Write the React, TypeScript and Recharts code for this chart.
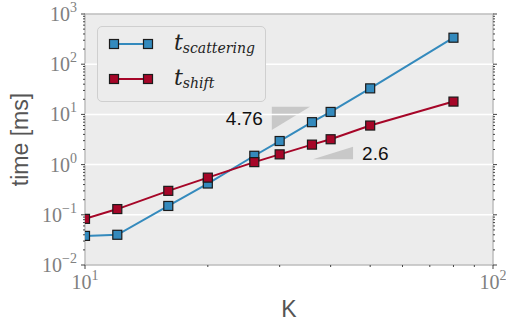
import React from 'react';
import {
  ComposedChart,
  Line,
  XAxis,
  YAxis,
  ReferenceArea,
  ReferenceLine,
  Legend,
  Label,
} from 'recharts';

// measured runtimes (ms) per K
const K = [10, 12, 16, 20, 26, 30, 36, 40, 50, 80];
const tScattering = [0.038, 0.04, 0.15, 0.42, 1.5, 2.95, 7.0, 11.2, 33, 337];
const tShift = [0.083, 0.13, 0.3, 0.55, 1.12, 1.6, 2.5, 3.2, 6.0, 18];

const xMajor = [10, 100];
const yMajor = [0.01, 0.1, 1, 10, 100, 1000];
const minorSteps = [2, 3, 4, 5, 6, 7, 8, 9];

const xTicks = [...xMajor, ...minorSteps.map((m) => m * 10)];
const yTicks = [
  ...yMajor,
  ...yMajor.slice(0, -1).flatMap((d) => minorSteps.map((m) => +(m * d).toPrecision(3))),
];

const slopes = [
  { label: '4.76', x1: 28.7, x2: 35.6, y1: 4.89, y2: 14.2, corner: 'topLeft' },
  { label: '2.6', x1: 36.2, x2: 45.4, y1: 1.28, y2: 2.27, corner: 'bottomRight' },
];

const series = [
  { key: 'scattering', sub: 'scattering', color: '#348ABD' },
  { key: 'shift', sub: 'shift', color: '#A60628' },
];

const data = K.map((k, i) => ({ K: k, scattering: tScattering[i], shift: tShift[i] }));

const isMajor = (v: number) => {
  const l = Math.log10(v);
  return Math.abs(l - Math.round(l)) < 1e-6;
};

const TICK_COLOR = '#444';
const LABEL_COLOR = '#808080';
const SERIF = '"Liberation Serif", serif';

const expText = (v: number) => {
  const e = Math.round(Math.log10(v));
  return e < 0 ? '\u2212' + Math.abs(e) : String(e);
};

const TickMark = (props: any) => {
  const { x, y, payload, side } = props;
  const v = payload.value;
  const major = isMajor(v);
  const len = major ? 4 : 2;
  let line;
  if (side === 'left') line = <line x1={x} x2={x - len} y1={y} y2={y} stroke={TICK_COLOR} />;
  else if (side === 'right') line = <line x1={x} x2={x + len} y1={y} y2={y} stroke={TICK_COLOR} />;
  else if (side === 'top') line = <line x1={x} x2={x} y1={y} y2={y - len} stroke={TICK_COLOR} />;
  else line = <line x1={x} x2={x} y1={y} y2={y + len} stroke={TICK_COLOR} />;

  let text = null;
  if (major && side === 'left') {
    text = (
      <text x={x - 8} y={y + 7} textAnchor="end" fill={LABEL_COLOR} fontFamily={SERIF} fontSize={20}>
        <tspan>10</tspan>
        <tspan dy={-9} fontSize={14}>{expText(v)}</tspan>
      </text>
    );
  }
  if (major && side === 'bottom') {
    text = (
      <text x={x} y={y + 24} textAnchor="middle" fill={LABEL_COLOR} fontFamily={SERIF} fontSize={20}>
        <tspan>10</tspan>
        <tspan dy={-9} fontSize={14}>{expText(v)}</tspan>
      </text>
    );
  }
  return (
    <g>
      {line}
      {text}
    </g>
  );
};

const squareDot = (color: string) => (props: any) => {
  const { cx, cy, index } = props;
  if (cx == null || cy == null) return <g key={index} />;
  return (
    <rect
      key={index}
      x={cx - 4.5}
      y={cy - 4.5}
      width={9}
      height={9}
      fill={color}
      stroke="#1b1b1b"
      strokeWidth={1.2}
    />
  );
};

const triangle = (corner: string) => (props: any) => {
  const { x, y, width, height } = props;
  const d =
    corner === 'topLeft'
      ? `M${x},${y} L${x + width},${y} L${x},${y + height} Z`
      : `M${x},${y + height} L${x + width},${y + height} L${x + width},${y} Z`;
  return <path d={d} fill="#c8c8c8" stroke="none" />;
};

const LegendBox = () => (
  <div
    style={{
      boxSizing: 'border-box',
      width: 169,
      height: 76,
      border: '1px solid #cfcfcf',
      borderRadius: 5,
      background: '#ececec',
      position: 'relative',
    }}
  >
    {series.map((s, i) => {
      const cy = 18 + i * 35;
      return (
        <React.Fragment key={s.key}>
          <svg width={46} height={12} style={{ position: 'absolute', left: 10, top: cy - 7 }}>
            <line x1={6} x2={40} y1={6} y2={6} stroke={s.color} strokeWidth={2} />
            <rect x={1.5} y={1.5} width={9} height={9} fill={s.color} stroke="#1b1b1b" strokeWidth={1.2} />
            <rect x={35.5} y={1.5} width={9} height={9} fill={s.color} stroke="#1b1b1b" strokeWidth={1.2} />
          </svg>
          <div
            style={{
              position: 'absolute',
              left: 76,
              top: cy - 17,
              fontFamily: '"DejaVu Serif", serif',
              fontStyle: 'italic',
              color: '#222',
              whiteSpace: 'nowrap',
              lineHeight: '30px',
            }}
          >
            <span style={{ fontSize: 22 }}>t</span>
            <span style={{ fontSize: 14, position: 'relative', top: 3 }}>{s.sub}</span>
          </div>
        </React.Fragment>
      );
    })}
  </div>
);

export default function App() {
  return (
    <div style={{ position: 'absolute', left: 0, top: 0 }}>
      <ComposedChart width={506} height={327} data={data} margin={{ top: 0, right: 0, bottom: 0, left: 0 }}>
        <XAxis
          xAxisId="b"
          dataKey="K"
          type="number"
          scale="log"
          domain={[10, 100]}
          ticks={xTicks}
          interval={0}
          allowDataOverflow
          height={62}
          tickSize={0}
          tickMargin={0}
          axisLine={false}
          tickLine={false}
          tick={(p: any) => <TickMark {...p} side="bottom" />}
        >
          <Label
            value="K"
            position="insideBottom"
            offset={10}
            style={{ fontFamily: '"Liberation Sans", sans-serif', fontSize: 23, fill: '#555' }}
          />
        </XAxis>
        <XAxis
          xAxisId="t"
          orientation="top"
          type="number"
          scale="log"
          domain={[10, 100]}
          ticks={xTicks}
          interval={0}
          allowDataOverflow
          height={14}
          tickSize={0}
          tickMargin={0}
          axisLine={false}
          tickLine={false}
          tick={(p: any) => <TickMark {...p} side="top" />}
        />
        <YAxis
          yAxisId="l"
          type="number"
          scale="log"
          domain={[0.01, 1000]}
          ticks={yTicks}
          interval={0}
          allowDataOverflow
          width={85}
          tickSize={0}
          tickMargin={0}
          axisLine={false}
          tickLine={false}
          tick={(p: any) => <TickMark {...p} side="left" />}
        >
          <Label
            value="time [ms]"
            angle={-90}
            position="insideLeft"
            offset={20}
            style={{ textAnchor: 'middle', fontFamily: '"Liberation Sans", sans-serif', fontSize: 23, fill: '#555' }}
          />
        </YAxis>
        <YAxis
          yAxisId="r"
          orientation="right"
          type="number"
          scale="log"
          domain={[0.01, 1000]}
          ticks={yTicks}
          interval={0}
          allowDataOverflow
          width={13}
          tickSize={0}
          tickMargin={0}
          axisLine={false}
          tickLine={false}
          tick={(p: any) => <TickMark {...p} side="right" />}
        />

        <ReferenceArea
          xAxisId="b"
          yAxisId="l"
          x1={10}
          x2={100}
          y1={0.01}
          y2={1000}
          fill="#ececec"
          fillOpacity={1}
          stroke="#bdbdbd"
          strokeWidth={1.5}
        />
        {yMajor.slice(1, -1).map((v) => (
          <ReferenceLine key={v} xAxisId="b" yAxisId="l" y={v} stroke="#ffffff" strokeWidth={1.5} />
        ))}
        {slopes.map((s) => (
          <ReferenceArea
            key={s.label}
            xAxisId="b"
            yAxisId="l"
            x1={s.x1}
            x2={s.x2}
            y1={s.y1}
            y2={s.y2}
            shape={triangle(s.corner)}
          >
            <Label
              value={s.label}
              position={s.corner === 'topLeft' ? 'left' : 'right'}
              offset={9}
              style={{ fontFamily: '"Liberation Sans", sans-serif', fontSize: 19, fill: '#111' }}
            />
          </ReferenceArea>
        ))}

        {series.map((s) => (
          <Line
            key={s.key}
            xAxisId="b"
            yAxisId="l"
            type="linear"
            dataKey={s.key}
            stroke={s.color}
            strokeWidth={2}
            dot={squareDot(s.color)}
            activeDot={false}
            isAnimationActive={false}
          />
        ))}

        <Legend
          layout="horizontal"
          verticalAlign="middle"
          align="center"
          wrapperStyle={{ left: 97, top: 26, width: 169, height: 76 }}
          content={() => <LegendBox />}
        />
      </ComposedChart>
    </div>
  );
}
